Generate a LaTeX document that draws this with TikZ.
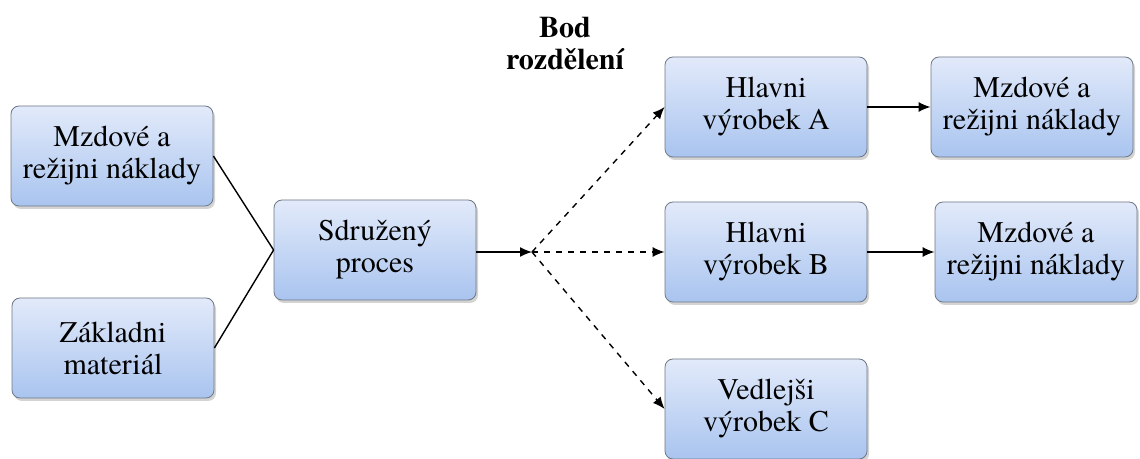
\documentclass[tikz,border=0pt]{standalone}
\usepackage{fontspec}
\setmainfont{TeX Gyre Termes}
\usetikzlibrary{arrows.meta,shadows}
\definecolor{boxtop}{HTML}{E2EAFA}
\definecolor{boxbot}{HTML}{A9C4EF}
\definecolor{boxline}{HTML}{6E7885}
\tikzset{
  box/.style={draw=boxline,rounded corners=4pt,top color=boxtop,bottom color=boxbot,
    drop shadow={opacity=0.35,shadow xshift=1pt,shadow yshift=-1.5pt},
    minimum width=101pt,minimum height=50pt,align=center,inner sep=2pt,
    font=\fontsize{15}{16}\selectfont},
  arr/.style={-{Latex[length=6pt,width=5pt]},line width=0.7pt},
}
\begin{document}
\begin{tikzpicture}[x=0.5pt,y=-0.5pt]
  \useasboundingbox (0,0) rectangle (1140,459);
  %VSTUPY
  \node[box] (mzdy1) at (112,156) {Mzdové a\\režijni náklady};
  \node[box] (mat) at (113,348) {Základni\\materiál};
  %SDRUZENY PROCES
  \node[box] (proces) at (375,250) {Sdružený\\proces};
  %BOD ROZDELENI
  \coordinate (bod) at (532,252);
  \node[font=\fontsize{15}{16}\selectfont\bfseries,align=center] (bodlabel) at (565,44) {Bod\\rozdělení};
  %VYROBKY
  \node[box] (hlA) at (766,107) {Hlavni\\výrobek A};
  \node[box] (hlB) at (766,252) {Hlavni\\výrobek B};
  \node[box] (vedC) at (766,409) {Vedlejši\\výrobek C};
  \node[box] (mzdyA) at (1032,107) {Mzdové a\\režijni náklady};
  \node[box] (mzdyB) at (1036,252) {Mzdové a\\režijni náklady};
  %SPOJNICE
  \draw[line width=0.7pt] (mzdy1.east) -- (proces.west);
  \draw[line width=0.7pt] (mat.east) -- (proces.west);
  \draw[arr] (proces.east |- bod) -- (bod);
  \foreach \n in {hlA,hlB,vedC}
    \draw[arr,dashed] (bod) -- (\n.west);
  \draw[arr] (hlA.east) -- (mzdyA.west);
  \draw[arr] (hlB.east) -- (mzdyB.west);
\end{tikzpicture}
\end{document}
